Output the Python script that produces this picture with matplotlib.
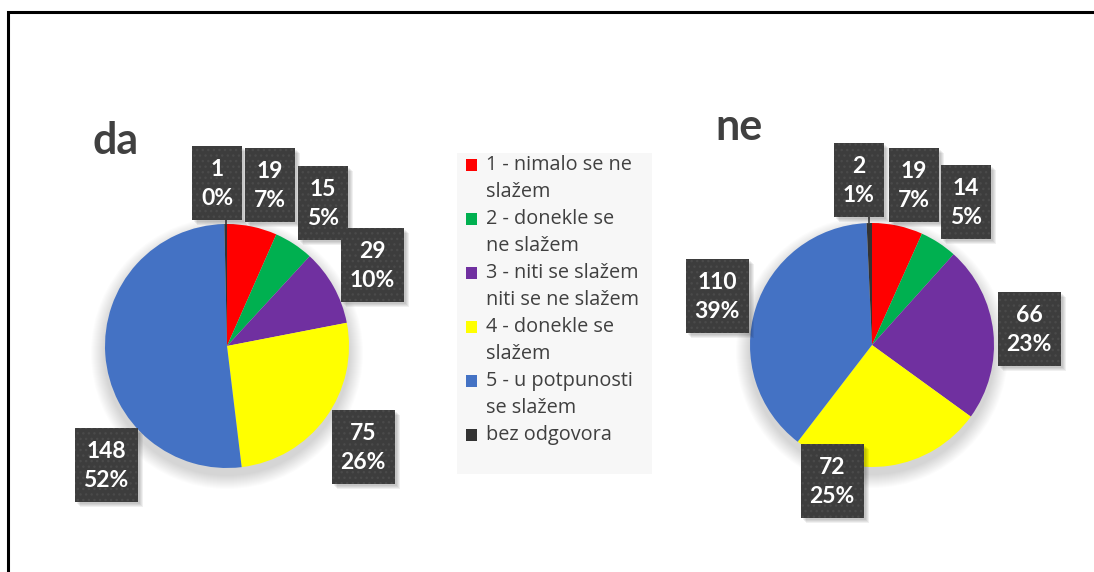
import numpy as np
import matplotlib
matplotlib.use("Agg")
import matplotlib.pyplot as plt
from matplotlib.patches import Rectangle, Circle

W, H = 1094, 572

categories = [
    "1 - nimalo se ne\nslažem",
    "2 - donekle se\nne slažem",
    "3 - niti se slažem\nniti se ne slažem",
    "4 - donekle se\nslažem",
    "5 - u potpunosti\nse slažem",
    "bez odgovora",
]
colors = ["#ff0000", "#00b050", "#7030a0", "#ffff00", "#4472c4", "#333333"]
da_values = [19, 15, 29, 75, 148, 1]
ne_values = [19, 14, 66, 72, 110, 2]

# layout (pixels, y measured from top)
PIES = [
    dict(title="da", values=da_values, center=(227, 346), title_xy=(93, 141),
         labels=[(270, 185), (323, 203), (372, 265), (363, 447), (106, 465), (217, 183)]),
    dict(title="ne", values=ne_values, center=(872, 345), title_xy=(715, 127),
         labels=[(914, 185), (966, 202), (1029, 329), (832, 481), (717, 296), (859, 180)]),
]
RADIUS = 122
TEXT = "#404040"
CLIP_Y = 518

fig = plt.figure(figsize=(W / 100, H / 100), dpi=100)
ax = fig.add_axes([0, 0, 1, 1])


def py(y):
    return H - y


clip = Rectangle((0, py(CLIP_Y)), W, CLIP_Y, transform=ax.transData, fill=False, visible=False)
ax.add_patch(clip)

for p in PIES:
    cx, cy = p["center"]
    vals = p["values"]
    total = sum(vals)

    # soft shadow under the pie
    for k in range(14):
        ax.add_patch(Circle((cx, py(cy) - 7), RADIUS + 14 - k, color="black", alpha=0.012, lw=0, zorder=1))

    ax.pie(vals, colors=colors, startangle=90, counterclock=False,
           center=(cx, py(cy)), radius=RADIUS, wedgeprops=dict(linewidth=0, zorder=2))

    ax.text(p["title_xy"][0], py(p["title_xy"][1]), p["title"], fontsize=31, fontweight="bold",
            color=TEXT, family="Lato", ha="left", va="center")

    cum = np.cumsum([0] + vals)
    for i, v in enumerate(vals):
        lx, ly = p["labels"][i]
        pct = f"{round(100 * v / total)}%"
        txt = f"{v}\n{pct}"
        w = 50 if max(len(str(v)), len(pct)) <= 2 else 63
        h = 74
        # tiny slices get a leader line
        if v / total < 0.02:
            mid = np.deg2rad(90 - 360 * (cum[i] + v / 2) / total)
            ax.plot([cx + RADIUS * np.cos(mid)] * 2, [py(ly + h / 2), py(cy) + RADIUS * np.sin(mid)],
                    color=TEXT, lw=1.2, zorder=3)
        for s in range(4):
            sh = Rectangle((lx - w / 2 + 2 + s, py(ly + h / 2) - 2 - s), w, h, color="black",
                           alpha=0.06, lw=0, zorder=4)
            sh.set_clip_path(clip)
            ax.add_patch(sh)
        box = Rectangle((lx - w / 2, py(ly + h / 2)), w, h, facecolor="#3d3d3d", edgecolor="#4a4a4a",
                        hatch="...", lw=0.0, zorder=5)
        box.set_clip_path(clip)
        ax.add_patch(box)
        t = ax.text(lx, py(ly) - 1, txt, ha="center", va="center", color="white", fontsize=16.5,
                    fontweight="bold", family="Lato", linespacing=1.42, zorder=6)
        t.set_clip_path(clip)

# legend
ax.add_patch(Rectangle((457, py(474)), 195, 474 - 153, facecolor="#f7f7f7", lw=0, zorder=1))
line_h = 27
y = 165
for cat, col in zip(categories, colors):
    ax.add_patch(Rectangle((466, py(y) - 6), 11, 12, facecolor=col, lw=0, zorder=3))
    for line in cat.split("\n"):
        ax.text(486, py(y), line, fontsize=14.3, color=TEXT, family="Open Sans", ha="left", va="center")
        y += line_h

# outer frame: left and top edges only are inside the picture
ax.plot([8, 8, W], [0, py(12), py(12)], color="black", lw=2.2, zorder=10, solid_joinstyle="miter")

ax.set_xlim(0, W)
ax.set_ylim(0, H)
ax.set_aspect("equal")
ax.axis("off")

fig.savefig("out.png", dpi=100)
